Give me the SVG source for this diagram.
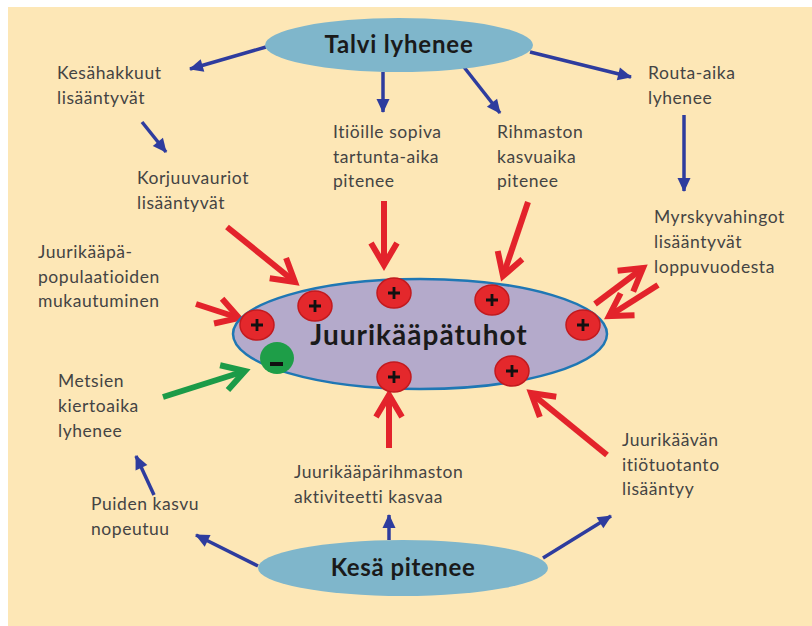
<svg xmlns="http://www.w3.org/2000/svg" width="812" height="626" viewBox="0 0 812 626">
<defs>
<style>
.lbl{font-family:Lato,"Liberation Sans",sans-serif;font-size:17.5px;letter-spacing:0.55px;fill:#444;}
.ttl{font-family:Lato,"Liberation Sans",sans-serif;font-weight:bold;fill:#1a1a1a;text-anchor:middle;}
.blue{stroke:#2E3C9E;stroke-width:3.5;fill:none;marker-end:url(#bh);}
.red{stroke:#E3232B;stroke-width:6;fill:none;marker-end:url(#rh);}
.green{stroke:#1C9B48;stroke-width:6;fill:none;marker-end:url(#gh);}
.plus{fill:#E4282C;stroke:#C21A1E;stroke-width:1.5;}
.pm{stroke:#111;stroke-width:2.8;}
</style>
<marker id="bh" markerUnits="userSpaceOnUse" viewBox="-14 -8 16 16" refX="0" refY="0" markerWidth="16" markerHeight="16" orient="auto">
<path d="M-13,-6.5 L1,0 L-13,6.5 Z" fill="#2E3C9E"/>
</marker>
<marker id="rh" markerUnits="userSpaceOnUse" viewBox="-30 -20 40 40" refX="0" refY="0" markerWidth="40" markerHeight="40" orient="auto">
<path d="M-22,-13 L0,0 L-22,13" fill="none" stroke="#E3232B" stroke-width="6"/>
</marker>
<marker id="gh" markerUnits="userSpaceOnUse" viewBox="-30 -20 40 40" refX="0" refY="0" markerWidth="40" markerHeight="40" orient="auto">
<path d="M-22,-13 L0,0 L-22,13" fill="none" stroke="#1C9B48" stroke-width="6"/>
</marker>
</defs>
<rect x="8" y="7" width="804" height="619" fill="#FDE7B6"/>

<g id="connectors">
<line class="blue" x1="266" y1="47" x2="190" y2="69"/>
<line class="blue" x1="383" y1="72" x2="383" y2="112"/>
<line class="blue" x1="460" y1="62" x2="500" y2="113"/>
<line class="blue" x1="530" y1="52" x2="631" y2="77"/>
<line class="blue" x1="142" y1="122" x2="166" y2="152"/>
<line class="blue" x1="684" y1="115" x2="684" y2="191"/>
<line class="blue" x1="258" y1="566" x2="196" y2="535"/>
<line class="blue" x1="154" y1="495" x2="136" y2="456"/>
<line class="blue" x1="389" y1="540" x2="389" y2="515"/>
<line class="blue" x1="543" y1="558" x2="611" y2="516"/>
<line class="red" x1="227" y1="227" x2="295" y2="282"/>
<line class="red" x1="196" y1="304" x2="239" y2="318"/>
<line class="red" x1="384" y1="201" x2="384" y2="265"/>
<line class="red" x1="528" y1="202" x2="503" y2="276"/>
<line class="red" x1="595" y1="304" x2="643" y2="268"/>
<line class="red" x1="658" y1="285" x2="609" y2="316"/>
<line class="red" x1="389" y1="448" x2="389" y2="395"/>
<line class="red" x1="607" y1="455" x2="531" y2="393"/>
<line class="green" x1="163" y1="397" x2="245" y2="371"/>
</g>

<g id="talvi">
<ellipse cx="399" cy="45" rx="134" ry="27" fill="#7FB6CB"/>
<text class="ttl" x="399" y="53" font-size="24" letter-spacing="0.8">Talvi lyhenee</text>
</g>
<g id="kesa">
<ellipse cx="403" cy="568" rx="145" ry="28" fill="#7FB6CB"/>
<text class="ttl" x="403" y="576" font-size="24" letter-spacing="0.6">Kesä pitenee</text>
</g>
<g id="juurikaapatuhot">
<ellipse cx="420" cy="334" rx="187" ry="55" fill="#B4AACB" stroke="#1F77B4" stroke-width="2.5"/>
<text class="ttl" x="419" y="345" font-size="28" letter-spacing="1">Juurikääpätuhot</text>
<g><ellipse class="plus" cx="257" cy="325" rx="17" ry="15"/><path class="pm" d="M251,325h12M257,319v12"/></g>
<g><ellipse class="plus" cx="315" cy="306" rx="17" ry="15"/><path class="pm" d="M309,306h12M315,300v12"/></g>
<g><ellipse class="plus" cx="394" cy="293" rx="17" ry="15"/><path class="pm" d="M388,293h12M394,287v12"/></g>
<g><ellipse class="plus" cx="492" cy="300" rx="17" ry="15"/><path class="pm" d="M486,300h12M492,294v12"/></g>
<g><ellipse class="plus" cx="583" cy="325" rx="17" ry="15"/><path class="pm" d="M577,325h12M583,319v12"/></g>
<g><ellipse class="plus" cx="512" cy="371" rx="17" ry="15"/><path class="pm" d="M506,371h12M512,365v12"/></g>
<g><ellipse class="plus" cx="394" cy="377" rx="17" ry="15"/><path class="pm" d="M388,377h12M394,371v12"/></g>
<g><ellipse cx="277" cy="358" rx="17" ry="16" fill="#1E9E48"/><rect x="270" y="362" width="13" height="4" fill="#111"/></g>
</g>

<g id="kesahakkuut"><text class="lbl" x="57" y="79">Kesähakkuut</text><text class="lbl" x="57" y="104">lisääntyvät</text></g>
<g id="routa"><text class="lbl" x="648" y="79">Routa-aika</text><text class="lbl" x="648" y="104">lyhenee</text></g>
<g id="itioille"><text class="lbl" x="333" y="138">Itiöille sopiva</text><text class="lbl" x="333" y="163">tartunta-aika</text><text class="lbl" x="333" y="187">pitenee</text></g>
<g id="rihmaston"><text class="lbl" x="497" y="138">Rihmaston</text><text class="lbl" x="497" y="163">kasvuaika</text><text class="lbl" x="497" y="187">pitenee</text></g>
<g id="korjuu"><text class="lbl" x="137" y="184">Korjuuvauriot</text><text class="lbl" x="137" y="209">lisääntyvät</text></g>
<g id="populaatio"><text class="lbl" x="38" y="258">Juurikääpä-</text><text class="lbl" x="38" y="283">populaatioiden</text><text class="lbl" x="38" y="307">mukautuminen</text></g>
<g id="myrsky"><text class="lbl" x="654" y="223">Myrskyvahingot</text><text class="lbl" x="654" y="248">lisääntyvät</text><text class="lbl" x="654" y="273">loppuvuodesta</text></g>
<g id="metsien"><text class="lbl" x="58" y="387">Metsien</text><text class="lbl" x="58" y="412">kiertoaika</text><text class="lbl" x="58" y="437">lyhenee</text></g>
<g id="puiden"><text class="lbl" x="91" y="510">Puiden kasvu</text><text class="lbl" x="91" y="535">nopeutuu</text></g>
<g id="rihmastoaktiv"><text class="lbl" x="294" y="478">Juurikääpärihmaston</text><text class="lbl" x="294" y="503">aktiviteetti kasvaa</text></g>
<g id="itiotuotanto"><text class="lbl" x="622" y="446">Juurikäävän</text><text class="lbl" x="622" y="471">itiötuotanto</text><text class="lbl" x="622" y="495">lisääntyy</text></g>
</svg>
